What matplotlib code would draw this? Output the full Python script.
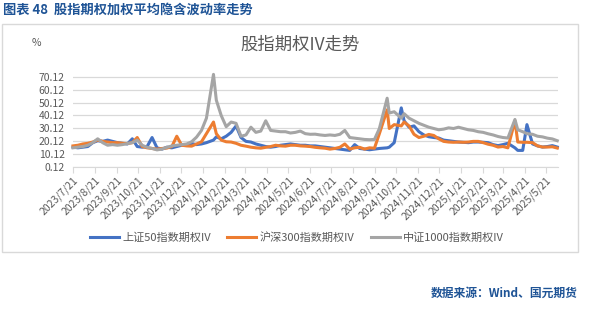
import numpy as np
import pandas as pd
import matplotlib
matplotlib.use("Agg")
from matplotlib import pyplot as plt
from matplotlib.patches import Rectangle

plt.rcParams['font.family'] = ['Noto Sans CJK SC', 'DejaVu Sans']

dates = ['2023-07-21', '2023-07-28', '2023-08-04', '2023-08-11', '2023-08-18', '2023-08-25',
         '2023-09-01', '2023-09-08', '2023-09-15', '2023-09-22', '2023-09-29', '2023-10-06',
         '2023-10-13', '2023-10-20', '2023-10-27', '2023-11-03', '2023-11-10', '2023-11-17',
         '2023-11-24', '2023-12-01', '2023-12-08', '2023-12-15', '2023-12-22', '2023-12-29',
         '2024-01-05', '2024-01-12', '2024-01-19', '2024-01-26', '2024-02-05', '2024-02-09',
         '2024-02-16', '2024-02-23', '2024-03-01', '2024-03-08', '2024-03-15', '2024-03-22',
         '2024-03-29', '2024-04-05', '2024-04-12', '2024-04-19', '2024-04-26', '2024-05-03',
         '2024-05-10', '2024-05-17', '2024-05-24', '2024-05-31', '2024-06-07', '2024-06-14',
         '2024-06-21', '2024-06-28', '2024-07-05', '2024-07-12', '2024-07-19', '2024-07-26',
         '2024-08-02', '2024-08-09', '2024-08-16', '2024-08-23', '2024-08-30', '2024-09-06',
         '2024-09-13', '2024-09-20', '2024-09-27', '2024-10-08', '2024-10-11', '2024-10-18',
         '2024-10-28', '2024-11-01', '2024-11-08', '2024-11-15', '2024-11-22', '2024-11-29',
         '2024-12-06', '2024-12-13', '2024-12-20', '2024-12-27', '2025-01-03', '2025-01-10',
         '2025-01-17', '2025-01-24', '2025-01-31', '2025-02-07', '2025-02-14', '2025-02-21',
         '2025-02-28', '2025-03-07', '2025-03-14', '2025-03-21', '2025-03-28', '2025-04-07',
         '2025-04-11', '2025-04-18', '2025-04-24', '2025-05-02', '2025-05-09', '2025-05-16',
         '2025-05-23', '2025-05-30', '2025-06-06']

sz50 = [15.5, 15, 15.5, 16, 19, 20.5, 20, 21, 20, 19, 18.5, 18,
        22, 16, 15.5, 16, 23, 15, 14, 15.5, 15, 16, 17, 17.5,
        18.3, 17.5, 18, 19, 21, 23.5, 22, 24, 27, 32, 23, 20,
        19.5, 18, 17, 16, 15.5, 16, 17, 17.5, 18, 17.5, 17, 17,
        16.5, 16.5, 16, 15.5, 15, 14.5, 14, 13.5, 13, 17.5, 14.5, 14,
        13.5, 14, 14.5, 15, 15.5, 19, 46, 36, 31, 32, 27.5, 25,
        23.6, 23, 22.6, 21, 20.5, 20, 19.5, 19.3, 19, 19.5, 19.5, 19.3,
        19, 17.5, 16.7, 17.5, 18.5, 15, 13, 13, 33, 18, 16.5, 15.6,
        16, 16.7, 15.6]

hs300 = [16.5, 17, 18, 18.5, 19.5, 21, 20, 19.5, 19, 19, 18.5, 18.3,
         19, 23, 16, 15, 14.5, 14, 14.5, 14.8, 16, 24, 17, 16.5,
         16.3, 18, 19.7, 26, 35, 26, 21, 19.7, 19.5, 18.5, 17, 16.3,
         15.5, 15, 14.7, 15.4, 16, 17, 16.5, 16.3, 17, 17, 16.5, 16.3,
         16, 15.4, 15, 14.7, 14, 14.5, 15.4, 18, 14, 15, 15.4, 14,
         15, 14.7, 26, 44.5, 30, 33, 32, 35, 32, 25.5, 23, 24,
         25.4, 24.6, 22, 20, 19.5, 19.3, 19.5, 19.3, 19.5, 20, 20, 19,
         17.8, 17, 15.6, 16, 15, 36, 19.5, 19.3, 19.3, 19, 16.5, 15.6,
         15.6, 15.8, 14.8]

zz1000 = [15, 15.5, 16, 17, 19, 22, 19, 17, 17.5, 17, 17.5, 18.3,
          19, 21, 17, 15.4, 14.5, 13.4, 14, 15.4, 16.5, 17, 17.5, 18,
          19.7, 23.3, 28.5, 38, 72, 52, 40, 31.4, 35, 34, 24, 25,
          31, 27, 28, 36, 28.5, 28, 27.5, 27.5, 26.5, 27, 28, 26,
          25.5, 25.6, 25, 24.6, 25, 24.6, 25.5, 28.5, 23, 22.5, 22, 21.5,
          21.3, 21.5, 30, 53.5, 42, 43, 38, 41.5, 38, 36, 34, 32.5,
          31, 30, 29, 29.5, 30.5, 30, 31, 30, 29, 28.5, 27.5, 27,
          25.9, 25, 23.8, 23, 22.6, 37, 29, 27.5, 26, 25.5, 24, 23.5,
          22.5, 21.9, 20.5]

names = ['上证50指数期权IV', '沪深300指数期权IV', '中证1000指数期权IV']
colors = ['#4472C4', '#ED7D31', '#A5A5A5']
yticks = [0.12, 10.12, 20.12, 30.12, 40.12, 50.12, 60.12, 70.12]

x = pd.to_datetime(dates)
month_ticks = [pd.Timestamp(2023, 7, 21) + pd.DateOffset(months=k) for k in range(23)]

fig = plt.figure(figsize=(5.96, 3.26), dpi=100)
fig.patches.append(Rectangle((2/596, 1-252/326), 576/596, 228/326, transform=fig.transFigure,
                             fill=False, edgecolor='#D9D9D9', linewidth=1))
fig.text(3/596, 1-10/326, '图表 48  股指期权加权平均隐含波动率走势', color='#1F5496',
         fontsize=9.5, fontweight='bold', va='center', ha='left')
fig.text(578/596, 1-293/326, '数据来源：Wind、国元期货', color='#1F5496',
         fontsize=8.5, fontweight='bold', va='center', ha='right')
fig.text(32/596, 1-43/326, '%', color='#595959', fontsize=7.5, va='center', ha='left')
fig.text(300/596, 1-45/326, '股指期权IV走势', color='#595959', fontsize=12.5, va='center', ha='center')

ax = fig.add_axes([73/596, 1-167/326, 485/596, 96.5/326])
# excel draws the last series on top
for ys, nm, c in zip([sz50, hs300, zz1000], names, colors):
    ax.plot(x, ys, color=c, linewidth=2.2, label=nm, clip_on=False)

ax.set_xlim(pd.Timestamp('2023-07-21'), pd.Timestamp('2025-06-07'))
ax.set_ylim(0.12, 75)
ax.set_yticks(yticks)
ax.set_yticklabels(['%.2f' % v for v in yticks])
ax.set_xticks(month_ticks)
ax.set_xticklabels(['%d/%d/21' % (t.year, t.month) for t in month_ticks],
                   rotation=45, ha='right', rotation_mode='anchor')
ax.tick_params(axis='y', length=0, labelsize=7.5, labelcolor='#595959', pad=6)
ax.tick_params(axis='x', length=4, color='#D9D9D9', labelsize=7.5, labelcolor='#595959', pad=2)
ax.grid(axis='y', color='#D9D9D9', linewidth=0.9)
ax.set_axisbelow(True)
for s in ['top', 'right', 'left']:
    ax.spines[s].set_visible(False)
ax.spines['bottom'].set_color('#D9D9D9')

fig.legend(loc='center', bbox_to_anchor=(297/596, 1-237/326), ncol=3,
           frameon=False, fontsize=8, handlelength=2.6, columnspacing=1.5,
           labelcolor='#595959', handletextpad=0.3)

plt.savefig('out.png', dpi=100)
